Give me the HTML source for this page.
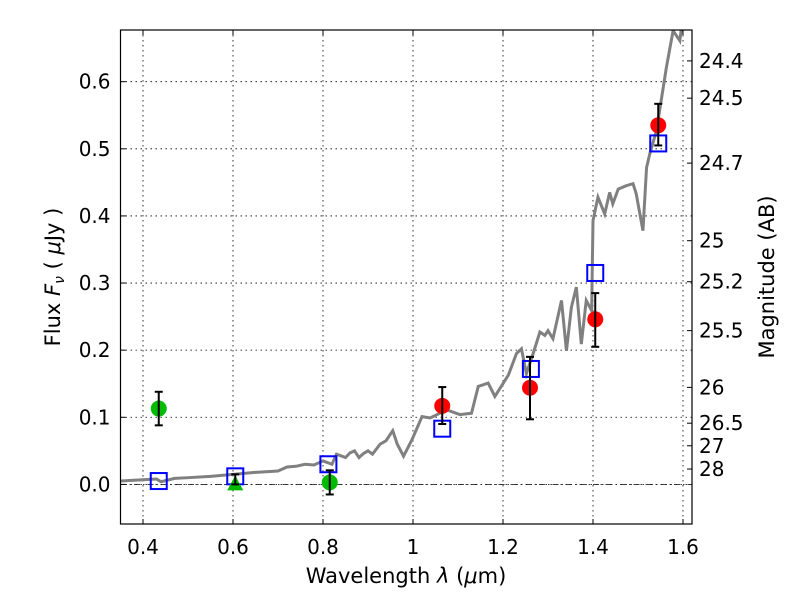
<!DOCTYPE html>
<html><head><meta charset="utf-8"><style>
body{margin:0;background:#fff;}
svg{font-family:"DejaVu Sans","Liberation Sans",sans-serif;}
</style></head><body>
<svg id="chart" width="800" height="600"></svg>
<script>
const specLam=[0.35,0.40,0.43,0.44,0.47,0.50,0.55,0.60,0.65,0.70,0.72,0.74,0.76,0.78,0.80,0.82,0.83,0.85,0.86,0.87,0.88,0.89,0.90,0.91,0.927,0.94,0.955,0.965,0.979,0.998,1.02,1.038,1.075,1.104,1.13,1.145,1.167,1.182,1.212,1.23,1.241,1.252,1.267,1.282,1.293,1.30,1.311,1.33,1.341,1.352,1.363,1.374,1.385,1.397,1.40,1.411,1.426,1.437,1.444,1.456,1.474,1.489,1.496,1.511,1.519,1.526,1.541,1.563,1.578,1.593,1.60];
const specFlux=[0.005,0.007,0.008,0.004,0.009,0.010,0.012,0.015,0.018,0.020,0.026,0.027,0.030,0.029,0.035,0.030,0.045,0.040,0.047,0.050,0.040,0.046,0.050,0.045,0.060,0.065,0.080,0.060,0.042,0.067,0.101,0.099,0.111,0.104,0.106,0.146,0.151,0.131,0.163,0.195,0.202,0.165,0.195,0.227,0.222,0.229,0.217,0.274,0.199,0.264,0.294,0.209,0.274,0.259,0.393,0.428,0.403,0.435,0.418,0.440,0.445,0.448,0.433,0.378,0.472,0.492,0.527,0.621,0.676,0.661,0.70];
const greenLam=[0.435,0.815];
const greenFlux=[0.113,0.003];
const greenErr=[0.025,0.018];
const triLam=[0.605];
const triFlux=[0.0];
const triErrLo=[0.0];
const triErrHi=[0.015];
const redLam=[1.065,1.26,1.405,1.545];
const redFlux=[0.117,0.144,0.246,0.535];
const redErrLo=[0.027,0.047,0.041,0.030];
const redErrHi=[0.028,0.046,0.039,0.032];
const blueLam=[0.435,0.605,0.812,1.065,1.262,1.405,1.545];
const blueFlux=[0.005,0.012,0.030,0.083,0.172,0.315,0.508];
const xTicks=[0.4,0.6,0.8,1.0,1.2,1.4,1.6];
const xTickLabels=["0.4","0.6","0.8","1","1.2","1.4","1.6"];
const yTicks=[0.0,0.1,0.2,0.3,0.4,0.5,0.6];
const yTickLabels=["0.0","0.1","0.2","0.3","0.4","0.5","0.6"];
const magTicks=[24.4,24.5,24.7,25,25.2,25.5,26,26.5,27,28];

const L=120.5,R=692,T=30,B=524;
const xMin=0.35,xMax=1.62,yMin=-0.059,yMax=0.677;
const X=v=>L+(v-xMin)/(xMax-xMin)*(R-L);
const Y=v=>B-(v-yMin)/(yMax-yMin)*(B-T);
const svg=document.getElementById('chart');
const NS='http://www.w3.org/2000/svg';
function mk(tag,attrs,parent){const e=document.createElementNS(NS,tag);for(const k in attrs)e.setAttribute(k,attrs[k]);(parent||svg).appendChild(e);return e;}

xTicks.forEach((v,i)=>{
  const g=mk('line',{x1:X(v),x2:X(v),y1:T,y2:B,stroke:'#000','stroke-width':0.8,'stroke-dasharray':'1.5,3.5'});
  
  
  mk('line',{x1:X(v),x2:X(v),y1:B,y2:B-5,stroke:'#000'});
  mk('line',{x1:X(v),x2:X(v),y1:T,y2:T+5,stroke:'#000'});
  const t=mk('text',{x:X(v),y:B+30,'font-size':20,'text-anchor':'middle'});
  t.textContent=xTickLabels[i];
  
  
});
yTicks.forEach((v,i)=>{
  const g=mk('line',{x1:L,x2:R,y1:Y(v),y2:Y(v),stroke:'#000','stroke-width':0.8,'stroke-dasharray':'1.5,3.5'});
  
  
  mk('line',{x1:L,x2:L+5,y1:Y(v),y2:Y(v),stroke:'#000'});
  const t=mk('text',{x:L-10,y:Y(v)+7,'font-size':20,'text-anchor':'end'});
  t.textContent=yTickLabels[i];
  
  
});
const z=mk('line',{x1:L,x2:R,y1:Y(0),y2:Y(0),stroke:'#000','stroke-width':0.8,'stroke-dasharray':'6,3,1.5,3'});


magTicks.forEach(m=>{
  const f=Math.pow(10,(23.9-m)/2.5);
  const y=Y(f);
  mk('line',{x1:R-5,x2:R,y1:y,y2:y,stroke:'#000'});
  const t=mk('text',{x:R+7,y:y+7,'font-size':20});
  t.textContent=String(m);
  
  
});
const clip=mk('clipPath',{id:'c'});mk('rect',{x:L,y:T,width:R-L,height:B-T},clip);
const sp=mk('polyline',{points:specLam.map((l,i)=>X(l)+','+Y(specFlux[i])).join(' '),fill:'none',stroke:'#808080','stroke-width':3,'clip-path':'url(#c)'});


blueLam.forEach((l,i)=>{
  const r=mk('rect',{x:X(l)-8,y:Y(blueFlux[i])-8,width:16,height:16,fill:'none',stroke:'#0000ff','stroke-width':2});
  
  
});
function errbar(x,lo,hi){
  mk('line',{x1:x,x2:x,y1:Y(lo),y2:Y(hi),stroke:'#000','stroke-width':2});
  mk('line',{x1:x-4,x2:x+4,y1:Y(lo),y2:Y(lo),stroke:'#000','stroke-width':2});
  mk('line',{x1:x-4,x2:x+4,y1:Y(hi),y2:Y(hi),stroke:'#000','stroke-width':2});
}
greenLam.forEach((l,i)=>{
  const c=mk('circle',{cx:X(l),cy:Y(greenFlux[i]),r:8,fill:'#00bb00'});
  
  
  errbar(X(l),greenFlux[i]-greenErr[i],greenFlux[i]+greenErr[i]);
});
triLam.forEach((l,i)=>{
  const x=X(l),y=Y(triFlux[i]);
  const p=mk('polygon',{points:`${x},${y-9} ${x-8},${y+6} ${x+8},${y+6}`,fill:'#00bb00'});
  
  
  errbar(x,triFlux[i]-triErrLo[i],triFlux[i]+triErrHi[i]);
});
redLam.forEach((l,i)=>{
  const c=mk('circle',{cx:X(l),cy:Y(redFlux[i]),r:8,fill:'#ff0000'});
  
  
  errbar(X(l),redFlux[i]-redErrLo[i],redFlux[i]+redErrHi[i]);
});
const fr=mk('rect',{x:L,y:T,width:R-L,height:B-T,fill:'none',stroke:'#000','stroke-width':1.2});


</script>
<svg width="800" height="600" style="position:absolute;left:0;top:0">
<text x="406" y="583" font-size="21" text-anchor="middle" font-family="DejaVu Sans,sans-serif">Wavelength  <tspan font-style="italic">λ</tspan> (<tspan font-style="italic">μ</tspan>m)</text>
<text transform="translate(60,277) rotate(-90)" font-size="21" text-anchor="middle" font-family="DejaVu Sans,sans-serif">Flux  <tspan font-style="italic">F</tspan><tspan font-style="italic" font-size="14" dy="4">ν</tspan><tspan dy="-4">  ( </tspan><tspan font-style="italic">μ</tspan>Jy )</text>
<text transform="translate(774,277) rotate(-90)" font-size="21" text-anchor="middle" font-family="DejaVu Sans,sans-serif">Magnitude (AB)</text>
</svg>
</body></html>
